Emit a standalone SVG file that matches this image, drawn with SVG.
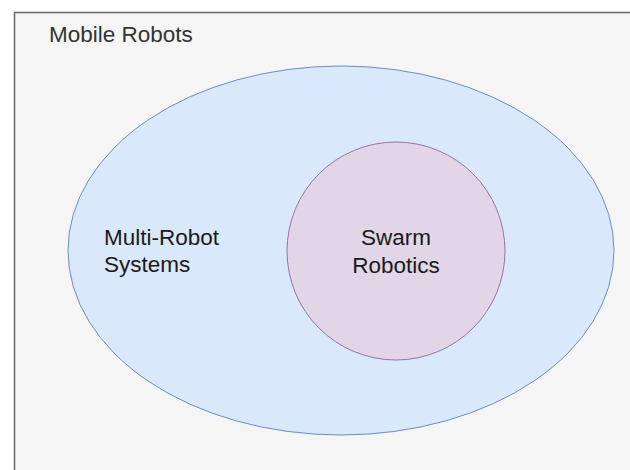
<svg xmlns="http://www.w3.org/2000/svg" width="630" height="470" viewBox="0 0 630 470">
<style>
text{font-family:"Liberation Sans",Arial,sans-serif;font-size:22.5px}
.lbl{fill:#1a1a1a}
</style>
<rect x="0" y="0" width="630" height="470" fill="#ffffff"/>
<g id="mobile-robots">
<rect x="14.5" y="12.5" width="640" height="480" fill="#f5f5f5" stroke="#666666" stroke-width="1.5"/>
<text x="49" y="42" fill="#333333">Mobile Robots</text>
</g>
<g id="multi-robot-systems">
<ellipse cx="341" cy="250.5" rx="273" ry="184.5" fill="#dae8fc" stroke="#6c8ebf" stroke-width="1"/>
<text class="lbl" x="104" y="245">Multi-Robot</text>
<text class="lbl" x="104" y="272">Systems</text>
</g>
<g id="swarm-robotics">
<circle cx="396" cy="251" r="109" fill="#e1d5e7" stroke="#9673a6" stroke-width="1"/>
<text class="lbl" x="396" y="245" text-anchor="middle">Swarm</text>
<text class="lbl" x="396" y="272.5" text-anchor="middle">Robotics</text>
</g>
<g id="connectors"/>
</svg>
